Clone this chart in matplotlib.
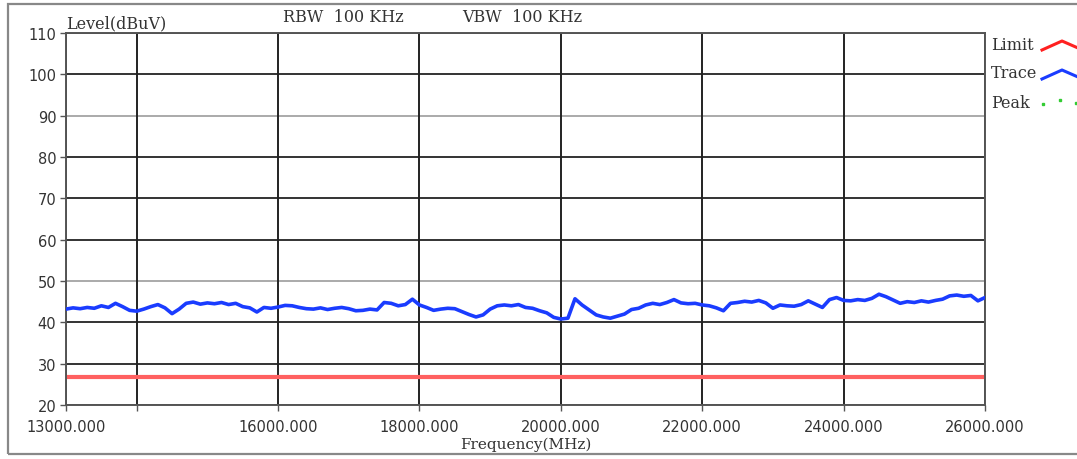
import numpy as np
import matplotlib
matplotlib.use("Agg")
import matplotlib.pyplot as plt
from matplotlib.lines import Line2D
from matplotlib.patches import Rectangle

# data
freq = np.arange(13000, 26001, 100)
trace = [43.2, 43.5, 43.3, 43.6, 43.4, 44.0, 43.6, 44.6, 43.8, 42.9,
         42.7, 43.2, 43.8, 44.3, 43.5, 42.1, 43.2, 44.6, 44.9, 44.4,
         44.7, 44.5, 44.8, 44.3, 44.6, 43.8, 43.5, 42.5, 43.6, 43.4,
         43.7, 44.1, 44.0, 43.6, 43.3, 43.2, 43.5, 43.1, 43.4, 43.6,
         43.3, 42.8, 42.9, 43.2, 43.0, 44.8, 44.6, 44.0, 44.3, 45.6,
         44.2, 43.6, 42.9, 43.2, 43.4, 43.3, 42.6, 41.9, 41.3, 41.8,
         43.2, 44.0, 44.2, 44.0, 44.3, 43.6, 43.4, 42.8, 42.3, 41.2,
         40.8, 41.0, 45.7, 44.2, 43.0, 41.8, 41.3, 41.0, 41.5, 42.0,
         43.1, 43.4, 44.2, 44.6, 44.3, 44.8, 45.5, 44.7, 44.5, 44.6,
         44.2, 44.0, 43.5, 42.8, 44.6, 44.8, 45.1, 44.9, 45.3, 44.7,
         43.4, 44.2, 44.0, 43.9, 44.3, 45.2, 44.4, 43.6, 45.5, 46.0,
         45.3, 45.2, 45.5, 45.3, 45.8, 46.8, 46.2, 45.4, 44.6, 45.0,
         44.8, 45.2, 44.9, 45.3, 45.6, 46.4, 46.6, 46.3, 46.5, 45.2,
         46.0]
limit_level = 26.7

x_ticks = [13000, 14000, 16000, 18000, 20000, 22000, 24000, 26000]
x_labels = ["13000.000", "", "16000.000", "18000.000", "20000.000",
            "22000.000", "24000.000", "26000.000"]
y_ticks = list(range(20, 111, 10))
light_rows = [50, 90]

W, H = 1077, 460
fig = plt.figure(figsize=(W / 100, H / 100), dpi=100)
ax = fig.add_axes([66 / W, 1 - 406 / H, (985 - 66) / W, (406 - 34) / H])

serif = "DejaVu Serif"
sans = "DejaVu Sans"
txt = "#333333"

# grid
for yv in y_ticks:
    c = "#aaaaaa" if yv in light_rows else "#333333"
    ax.axhline(yv, color=c, lw=1.4, zorder=1)
for xv in x_ticks:
    ax.axvline(xv, color="#222222", lw=1.4, zorder=1)

ax.axhline(limit_level, color="#ff6060", lw=3, zorder=2)
ax.plot(freq, trace, color="#1a3cff", lw=2.6, zorder=3)

ax.set_xlim(13000, 26000)
ax.set_ylim(20, 110)
ax.set_xticks(x_ticks)
ax.set_xticklabels(x_labels, fontfamily=sans, fontsize=10.5, color=txt)
ax.set_yticks(y_ticks)
ax.set_yticklabels([str(v) for v in y_ticks], fontfamily=sans, fontsize=10.5,
                   color=txt)
ax.tick_params(axis="both", direction="out", length=4, width=1, color="#555555")
ax.tick_params(axis="x", pad=6)
ax.tick_params(axis="y", pad=3)
for s in ax.spines.values():
    s.set_color("#555555")
    s.set_linewidth(1.4)

ax.set_xlabel("Frequency(MHz)", fontfamily=serif, fontsize=11, color=txt,
              labelpad=2)

fig.text(66 / W, 1 - 24 / H, "Level(dBuV)", fontfamily=serif, fontsize=11.5,
         color=txt, ha="left", va="center")
fig.text(283 / W, 1 - 18 / H, "RBW  100 KHz", fontfamily=serif, fontsize=11.5,
         color=txt, ha="left", va="center")
fig.text(462 / W, 1 - 18 / H, "VBW  100 KHz", fontfamily=serif, fontsize=11.5,
         color=txt, ha="left", va="center")

# legend on the right
for label, yy in [("Limit", 45), ("Trace", 74), ("Peak", 103)]:
    fig.text(991 / W, 1 - yy / H, label, fontfamily=serif, fontsize=11.5,
             color=txt, ha="left", va="center")


def fx(px):
    return px / W


def fy(py):
    return 1 - py / H


fig.add_artist(Line2D([fx(1042), fx(1062), fx(1078)], [fy(51), fy(42), fy(49)],
                      color="#ff2020", lw=2.2, transform=fig.transFigure))
fig.add_artist(Line2D([fx(1042), fx(1062), fx(1078)], [fy(80), fy(71), fy(78)],
                      color="#1a3cff", lw=2.2, transform=fig.transFigure))
fig.add_artist(Line2D([fx(1043), fx(1060), fx(1076)], [fy(105), fy(101), fy(104)],
                      color="#33cc33", lw=0, marker="s", markersize=1.8,
                      transform=fig.transFigure))

# outer frame
fig.add_artist(Rectangle((fx(8), fy(455)), fx(1100) - fx(8), fy(5) - fy(455),
                         fill=False, edgecolor="#888888", lw=1.6,
                         transform=fig.transFigure))

fig.savefig("out.png", dpi=100)
